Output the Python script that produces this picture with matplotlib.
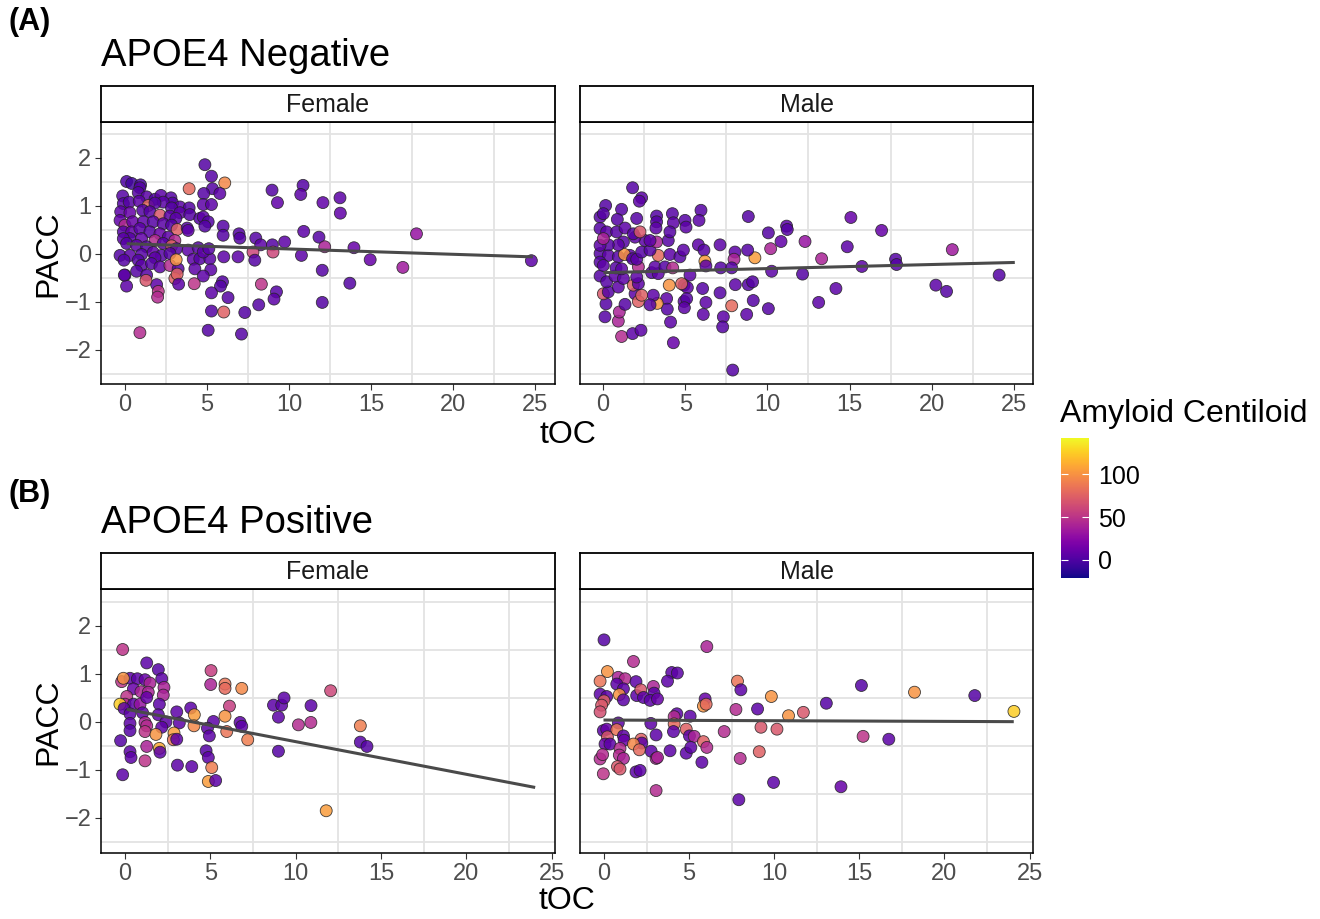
import numpy as np
import matplotlib
matplotlib.use("Agg")
import matplotlib.pyplot as plt
from matplotlib.colors import Normalize
from matplotlib.cm import ScalarMappable

plt.rcParams['font.family'] = ['Liberation Sans', 'DejaVu Sans']

# ---- APOE4 negative, female ----
neg_f_toc = [0.10, 0.41, 0.95, 0.91, -0.14, 0.81, 1.32, 1.83, 2.19, 2.80, 2.90, 2.33, -0.10, 0.26, 0.87,
             1.42, 1.83, 3.35, 3.91, 2.84, -0.26, 0.30, 1.08, 1.52, 2.13, 2.74, 3.35, 3.95, 4.56, 4.77,
             5.07, 3.10, -0.30, 0.00, 0.47, 1.12, 1.72, 2.33, 2.84, 3.18, 3.79, 3.85, 4.87, -0.10, 0.41,
             0.91, 1.52, 2.13, 2.64, 3.04, 1.83, 0.30, 1.01, -0.10, 0.10, 0.71, 1.32, 2.33, 2.84, 3.14,
             3.85, 4.46, -0.30, 0.30, 1.01, 1.72, 2.23, 2.74, 4.16, 4.56, 5.17, -0.06, 0.81, 1.83, 1.01,
             1.62, 2.13, 2.74, 3.24, 4.26, 5.23, 0.71, 1.32, 3.04, 3.18, 4.77, 0.00, 4.77, 5.11,
             4.87, 5.27, 6.08, 5.33, 5.78, 4.80, 3.91, 4.77, 5.27, 8.96, 10.85, 10.71, 9.29, 12.06, 5.98,
             5.98, 6.95, 7.00, 7.97, 8.27, 8.98, 9.73, 10.89, 11.82, 12.17, 7.80, 9.02, 10.75, 6.89, 6.02,
             7.91, 12.02, 8.31, 9.23, 9.08, 8.15, 12.02, 5.94, 5.82, 5.27, 6.28, 5.27, 6.02, 7.30, 5.07,
             7.10, 0.91, 4.22, 3.27, 1.93, 2.03, 1.99, 0.10, -0.04, 1.28, 13.10, 13.12, 13.95, 14.94,
             16.93, 17.76, 24.76, 13.70, 3.12]
neg_f_pacc = [1.51, 1.47, 1.44, 1.38, 1.21, 1.28, 1.19, 1.14, 1.22, 1.17, 1.06, 1.08, 1.05, 1.08, 1.10,
              1.01, 1.06, 0.98, 0.96, 0.96, 0.88, 0.86, 0.91, 0.88, 0.81, 0.79, 0.86, 0.82, 0.74, 0.77,
              0.67, 0.74, 0.70, 0.60, 0.67, 0.67, 0.67, 0.63, 0.60, 0.51, 0.54, 0.49, 0.58, 0.46, 0.46,
              0.53, 0.46, 0.42, 0.35, 0.28, 0.28, 0.32, 0.32, 0.32, 0.22, 0.18, 0.15, 0.22, 0.17, 0.11,
              0.08, 0.13, -0.03, -0.03, -0.01, 0.03, -0.03, 0.01, -0.11, -0.10, -0.10, -0.13, -0.13, -0.08, -0.24,
              -0.20, -0.27, -0.24, -0.31, -0.31, -0.33, -0.36, -0.44, -0.51, -0.42, -0.46, -0.44, 0.04, 0.11,
              1.86, 1.62, 1.48, 1.36, 1.26, 1.26, 1.36, 1.03, 1.03, 1.33, 1.43, 1.24, 1.07, 1.07, 0.58,
              0.39, 0.42, 0.33, 0.33, 0.19, 0.19, 0.25, 0.47, 0.35, 0.15, 0.04, 0.04, -0.03, -0.06, -0.06,
              -0.13, -0.34, -0.63, -0.79, -0.94, -1.06, -1.01, -0.58, -0.67, -0.81, -0.91, -1.19, -1.21, -1.22, -1.59,
              -1.67, -1.64, -0.62, -0.63, -0.64, -0.78, -0.90, -0.67, -0.44, -0.55, 1.17, 0.85, 0.13, -0.12,
              -0.28, 0.42, -0.14, -0.61, -0.12]
neg_f_cl = [0, -5, -3, 2, 3, 2, 5, 2, 6, 3, 2, 5, 3, 2, 6,
            80, 3, 5, 2, 3, 6, 10, 2, 3, 70, 5, 6, 3, 2, 6,
            3, 5, 8, 45, 10, 6, 3, 5, 2, 75, 3, 6, 2, 3, 8,
            5, 3, 10, 6, 45, 45, 3, 8, 5, 3, 6, 2, 5, 75, 3,
            6, 3, 2, 5, 3, 8, 3, 2, 6, 3, 5, 3, 2, 6, 5,
            3, 6, 45, 3, 6, 5, 2, 3, 75, 75, 6, 3, 6, 3,
            2, 3, 95, 2, 6, 3, 80, 6, 6, 2, 3, 6, 8, 8, 3,
            2, 2, 2, 3, 6, 2, 6, 6, 3, 40, 60, 60, 6, 6, 6,
            3, 3, 50, 3, 6, 3, 2, 3, 2, 6, 3, 2, 75, 2, 2,
            3, 45, 50, 6, 6, 50, 45, 6, 6, 70, 6, 8, 10, 10,
            35, 30, 6, 2, 100]

# ---- APOE4 negative, male ----
neg_m_toc = [1.80, 2.35, 2.21, 0.16, 1.13, -0.18, 0.02, 0.87, 2.05, 3.26, 3.26, 3.22, 4.22, 4.28, 4.99,
             5.05, 5.96, 5.84, 8.84, 10.06, 11.17, 11.21, 10.83, 12.29, 10.20, 9.24, 10.26, 12.14, 7.12, 5.80,
             6.14, 8.03, 8.80, 7.97, 6.20, 6.26, 7.16, 7.83, 8.05, 8.84, 9.10, 7.12, 9.14, 7.83, 10.06,
             8.74, 7.32, 7.28, 6.10, 6.26, 6.06, 5.29, 4.93, 5.13, 4.78, 4.03, 4.93, 5.09, 4.95, 3.87,
             3.91, 3.30, 3.06, 2.86, 4.11, 4.28, 7.89, 1.13, 1.80, 2.31, 0.93, 0.99, 0.12, 1.34, 0.18,
             0.02, 0.32, 0.93, 1.95, 2.15, 2.35, 1.84, 2.15, -0.18, 0.22, 0.73, 1.24, 2.05, 2.96, 3.36,
             3.16, 3.77, 4.24, 2.15, -0.18, 0.32, 0.93, 1.64, 1.30, 1.80, 2.05, -0.18, 0.02, 0.79, 1.13,
             3.36, 4.07, 4.68, 4.89, 2.35, 2.86, 3.26, 3.97, 2.55, 1.95, 1.24, 0.93, 0.32, -0.18, -0.18,
             0.22, 0.83, 1.34, 1.84, 2.25, 2.86, 4.07, 0.02,
             15.08, 16.95, 14.86, 13.30, 15.75, 17.80, 17.86, 21.25, 14.17, 13.12, 20.25, 20.90, 24.10]
neg_m_pacc = [1.38, 1.17, 1.10, 1.01, 0.93, 0.77, 0.84, 0.72, 0.74, 0.79, 0.67, 0.54, 0.84, 0.65, 0.70,
              0.56, 0.91, 0.70, 0.78, 0.44, 0.58, 0.51, 0.26, 0.26, 0.11, -0.08, -0.36, -0.42, 0.19, 0.19,
              0.08, 0.04, 0.08, -0.11, -0.15, -0.25, -0.29, -0.29, -0.64, -0.64, -0.58, -0.81, -0.97, -1.08, -1.14,
              -1.26, -1.31, -1.52, -1.26, -1.01, -0.72, -0.44, -0.65, -0.70, -0.62, -0.65, -0.99, -0.93, -1.12, -0.93,
              -1.15, -1.03, -0.86, -1.06, -1.42, -1.85, -2.42, -1.72, -1.66, -1.59, -1.40, -1.21, -1.31, -1.05, -1.04,
              -0.83, -0.79, -0.69, -0.83, -0.99, -0.86, -0.65, -0.62, -0.46, -0.58, -0.46, -0.51, -0.48, -0.39, -0.41,
              -0.27, -0.27, -0.29, -0.27, 0.01, -0.03, -0.06, -0.03, -0.01, -0.10, -0.11, -0.17, -0.24, -0.29, -0.31,
              -0.03, -0.01, -0.06, 0.08, 0.04, 0.08, 0.25, 0.28, 0.28, 0.35, 0.25, 0.19, 0.19, 0.18, 0.53,
              0.46, 0.46, 0.54, 0.42, 0.46, 0.28, 0.46, 0.32,
              0.76, 0.49, 0.15, -0.10, -0.26, -0.11, -0.22, 0.09, -0.72, -1.01, -0.65, -0.78, -0.44]
neg_m_cl = [3, 6, 6, 2, 3, 2, 3, 2, 3, 2, 3, 6, 3, 6, 3,
            6, 3, 5, 3, 2, 6, 3, 8, 30, 40, 105, 6, 2, 6, 6,
            3, 6, 3, 40, 105, 6, 3, 3, 6, 2, 3, 3, 3, 80, 3,
            6, 6, 3, 6, 6, 3, 6, 3, 6, 75, 100, 6, 3, 6, 6,
            3, 100, 6, 3, 6, 10, 3, 45, 6, 6, 40, 40, 3, 3, 3,
            70, 3, 6, 6, 75, 75, 75, 6, 3, 3, 6, 6, 6, 3, 6,
            6, 3, 45, 45, 3, 6, 3, 6, 100, 3, 6, 3, 6, 3, 6,
            80, 6, 3, 6, 3, 3, 40, 3, 6, 6, 3, 6, 3, 6, 3,
            6, 3, 6, 3, 70, 6, 3, 40,
            10, 10, 6, 40, 6, 3, 3, 35, 6, 6, 6, 2, 3]

# ---- APOE4 positive, female ----
pos_f_toc = [-0.14, 1.27, 1.95, 2.15, 2.28, 2.24, 2.01, -0.20, 0.29, 0.72, 1.17, 1.46, -0.10, 0.49, 0.93,
             1.36, 0.10, 0.00, -0.30, 0.49, 0.88, 1.27, -0.06, 0.29, 1.03, 1.95, 3.03, 3.85, 4.06, 3.18,
             4.04, 2.40, 2.15, 0.29, 0.29, 1.17, 1.27, 1.17, 1.81, 2.87, 2.83, 3.03, -0.26, 1.27, 2.01,
             2.05, 0.29, 0.35, 1.17, -0.14, 3.07, 3.91, 5.04, 5.02, 5.86, 5.86, 6.84, 6.12, 5.86, 5.18,
             4.83, 4.94, 5.96, 6.74, 6.84, 7.19, 4.75, 4.88, 5.08, 4.88, 5.31, 8.70, 9.18, 9.32, 8.99,
             8.99, 10.90, 10.16, 10.89, 12.05, 13.79, 13.79, 14.18, 11.79]
pos_f_pacc = [1.51, 1.23, 1.09, 0.90, 0.72, 0.56, 0.37, 0.84, 0.91, 0.90, 0.88, 0.81, 0.91, 0.69, 0.63,
              0.62, 0.53, 0.37, 0.37, 0.37, 0.37, 0.51, 0.28, 0.17, 0.19, 0.15, 0.21, 0.29, 0.15, -0.02,
              -0.08, 0.00, -0.11, -0.03, -0.18, -0.01, -0.08, -0.20, -0.26, -0.23, -0.37, -0.36, -0.39, -0.51, -0.55,
              -0.63, -0.62, -0.74, -0.81, -1.10, -0.90, -0.93, 1.07, 0.78, 0.79, 0.70, 0.70, 0.33, 0.12, 0.01,
              -0.13, -0.29, -0.20, -0.01, -0.09, -0.37, -0.60, -0.74, -0.95, -1.24, -1.22, 0.35, 0.35, 0.50, 0.10,
              -0.61, 0.34, -0.06, -0.01, 0.65, -0.08, -0.42, -0.51, -1.85]
pos_f_cl = [50, 6, 3, 6, 40, 40, 6, 50, 6, 6, 10, 40, 100, 10, 40,
            40, 50, 45, 125, 6, 30, 10, 6, 6, 6, 6, 6, 6, 105, 6,
            95, 6, 6, 6, 3, 40, 45, 50, 100, 105, 85, 6, 3, 40, 110,
            6, 6, 6, 50, 6, 6, 6, 55, 40, 85, 80, 95, 55, 100, 6,
            6, 6, 85, 6, 6, 90, 3, 6, 90, 105, 6, 6, 6, 6, 6,
            3, 6, 45, 45, 60, 90, 3, 3, 105]

# ---- APOE4 positive, male ----
pos_m_toc = [0.00, 6.04, 1.73, 0.20, -0.23, -0.23, 0.16, 0.00, -0.14, -0.23, 0.84, 1.24, 0.75, 1.14, 0.90,
             1.14, 1.88, 1.92, 2.16, 2.32, 2.90, 2.94, 2.71, 3.14, 3.98, 4.31, 3.73, 5.94, 5.84, 6.00,
             7.84, 8.04, 9.83, 7.75, 9.02, 10.84, 11.71, 4.28, 4.12, 4.12, 5.06, 2.75, 0.84, 4.08, 4.83,
             5.02, 5.30, 7.06, 9.22, 10.16, 3.06, -0.04, 0.16, 0.20, 0.75, 0.06, 0.35, 1.14, 1.18, 2.18,
             2.22, 1.73, 2.08, 0.94, 2.77, 3.06, 3.14, 3.88, 4.83, 5.10, 5.84, 6.04, 5.75, 8.00, 9.12,
             9.96, 7.92, 3.06, -0.23, -0.08, 0.90, 1.14, 0.79, 0.94, -0.04, 1.88, 2.12,
             13.06, 15.12, 18.24, 21.78, 24.08, 15.22, 16.73, 13.92]
pos_m_pacc = [1.71, 1.57, 1.26, 1.05, 0.85, 0.58, 0.53, 0.44, 0.35, 0.21, 0.93, 0.90, 0.79, 0.69, 0.57,
              0.46, 0.84, 0.55, 0.67, 0.51, 0.74, 0.60, 0.45, 0.48, 1.03, 1.02, 0.85, 0.48, 0.33, 0.37,
              0.85, 0.67, 0.53, 0.26, 0.27, 0.13, 0.20, 0.17, 0.11, -0.04, 0.12, -0.03, -0.02, -0.20, -0.15,
              -0.29, -0.30, -0.20, -0.11, -0.15, -0.27, -0.18, -0.15, -0.31, -0.16, -0.46, -0.46, -0.29, -0.38, -0.36,
              -0.44, -0.46, -0.58, -0.55, -0.61, -0.76, -0.74, -0.60, -0.65, -0.53, -0.41, -0.53, -0.84, -0.76, -0.62,
              -1.26, -1.62, -1.43, -0.77, -0.68, -0.69, -0.76, -0.93, -0.98, -1.08, -1.04, -1.01,
              0.39, 0.76, 0.62, 0.55, 0.22, -0.30, -0.36, -1.35]
pos_m_cl = [3, 40, 45, 100, 85, 6, 6, 75, 70, 65, 40, 45, 6, 6, 100,
            6, 6, 6, 70, 6, 40, 6, 6, 10, 6, 6, 6, 10, 100, 80,
            85, 6, 100, 45, 6, 100, 70, 6, 45, 80, 6, 6, 6, 6, 75,
            6, 40, 45, 70, 70, 6, 6, 10, 70, 85, 10, 6, 6, 10, 75,
            6, 95, 80, 45, 6, 40, 40, 6, 6, 6, 75, 45, 6, 45, 75,
            6, 6, 45, 45, 45, 45, 40, 70, 70, 50, 6, 6,
            3, 3, 100, 3, 125, 50, 6, 10]

# regression lines: intercept, slope, x start, x end
neg_f_fit = (0.215, -0.0111, 0.2, 24.76)
neg_m_fit = (-0.39, 0.0085, 0.12, 24.96)
pos_f_fit = (0.27, -0.068, 0.2, 23.95)
pos_m_fit = (0.04, -0.0014, 0.06, 23.98)

cl_min, cl_max = -21, 142
norm = Normalize(cl_min, cl_max)
cmap = plt.get_cmap('plasma')

W, H = 1320, 919
fig = plt.figure(figsize=(W / 100, H / 100), dpi=100)


def box(x0, y0, x1, y1):
    # pixel box -> figure fraction [left, bottom, width, height]
    return [x0 / W, 1 - y1 / H, (x1 - x0) / W, (y1 - y0) / H]


def panel(rect, strip_rect, label, toc, pacc, cl, fit, xlim, ylim):
    ax = fig.add_axes(rect)
    ax.set_xlim(*xlim)
    ax.set_ylim(*ylim)
    ax.set_xticks([0, 5, 10, 15, 20, 25])
    ax.set_yticks([-2, -1, 0, 1, 2])
    ax.set_xticks([2.5, 7.5, 12.5, 17.5, 22.5], minor=True)
    ax.set_yticks([-2.5, -1.5, -0.5, 0.5, 1.5, 2.5], minor=True)
    ax.grid(which='minor', color='#e3e3e3', lw=1.3)
    ax.grid(which='major', visible=False)
    ax.set_axisbelow(True)
    ax.tick_params(which='minor', length=0)
    ax.tick_params(which='major', length=4, width=0.8, color='#333333',
                   labelsize=17, labelcolor='#4d4d4d', pad=3)
    for s in ax.spines.values():
        s.set_linewidth(1.1)
        s.set_color('black')
    ax.scatter(toc, pacc, c=cl, cmap=cmap, norm=norm, s=74, alpha=0.85,
               edgecolors='#222222', linewidths=0.6, zorder=2)
    b, m, xa, xb = fit
    xs = np.array([xa, xb])
    ax.plot(xs, b + m * xs, color='#4a4a4a', lw=2.2, zorder=3)

    sax = fig.add_axes(strip_rect)
    sax.set_xticks([])
    sax.set_yticks([])
    for s in sax.spines.values():
        s.set_linewidth(1.3)
        s.set_color('black')
    sax.text(0.5, 0.47, label, ha='center', va='center', fontsize=18,
             color='#1a1a1a', transform=sax.transAxes)
    return ax


top_ylim = (-2.71, 2.75)
bot_ylim = (-2.73, 2.77)

a1 = panel(box(101, 122, 555, 384), box(101, 86, 555, 122), 'Female',
           neg_f_toc, neg_f_pacc, neg_f_cl, neg_f_fit, (-1.46, 26.2), top_ylim)
a2 = panel(box(580, 122, 1033, 384), box(580, 86, 1033, 122), 'Male',
           neg_m_toc, neg_m_pacc, neg_m_cl, neg_m_fit, (-1.40, 26.16), top_ylim)
a3 = panel(box(101, 589, 555, 853), box(101, 553, 555, 589), 'Female',
           pos_f_toc, pos_f_pacc, pos_f_cl, pos_f_fit, (-1.41, 25.2), bot_ylim)
a4 = panel(box(580, 589, 1033, 853), box(580, 553, 1033, 589), 'Male',
           pos_m_toc, pos_m_pacc, pos_m_cl, pos_m_fit, (-1.41, 25.2), bot_ylim)

for ax in (a2, a4):
    ax.tick_params(axis='y', left=False, labelleft=False)

fig.text(48 / W, 1 - 254 / H, 'PACC', ha='center', va='center', fontsize=23, rotation=90)
fig.text(48 / W, 1 - 722 / H, 'PACC', ha='center', va='center', fontsize=23, rotation=90)
fig.text(568 / W, 1 - 435 / H, 'tOC', ha='center', va='center', fontsize=23)
fig.text(567 / W, 1 - 901 / H, 'tOC', ha='center', va='center', fontsize=23)

fig.text(101 / W, 1 - 56 / H, 'APOE4 Negative', ha='left', va='center', fontsize=27.5)
fig.text(101 / W, 1 - 523 / H, 'APOE4 Positive', ha='left', va='center', fontsize=27.5)
fig.text(8 / W, 1 - 22 / H, '(A)', ha='left', va='center', fontsize=22, fontweight='bold')
fig.text(8 / W, 1 - 494 / H, '(B)', ha='left', va='center', fontsize=22, fontweight='bold')

# colour bar
cax = fig.add_axes(box(1061, 438, 1089, 578))
sm = ScalarMappable(norm=norm, cmap=cmap)
cb = fig.colorbar(sm, cax=cax, ticks=[0, 50, 100])
cb.outline.set_visible(False)
cax.tick_params(axis='y', which='both', direction='in', length=5, width=0.8,
                color='white', left=True, right=True, labelsize=18, pad=6.5)
fig.text(1060 / W, 1 - 414 / H, 'Amyloid Centiloid', ha='left', va='center', fontsize=23)

fig.savefig('out.png', dpi=100)
